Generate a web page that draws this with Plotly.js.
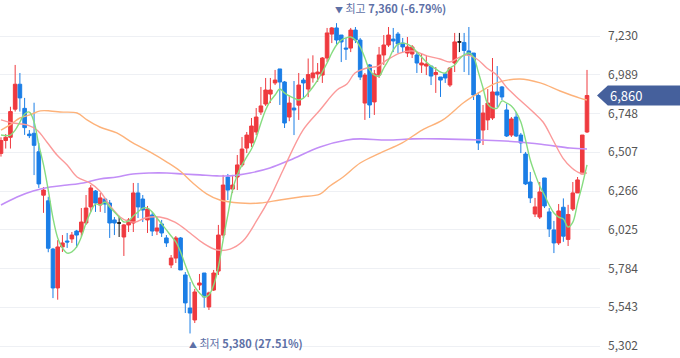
<!DOCTYPE html>
<html><head><meta charset="utf-8">
<script src="https://cdn.plot.ly/plotly-3.0.1.min.js"></script>
<style>html,body{margin:0;padding:0;background:#fff;}#chart{width:680px;height:358px;}</style>
</head><body><div id="chart"></div>
<script>
// daily candles (oldest -> newest)
const opens = [6500,6580,6600,6775,6930,6780,6620,6625,6510,6240,6205,5905,5663,5918,5955,5968,6017,6011,6067,6167,
6266,6179,6216,6191,6086,6067,5980,6055,6067,6254,6216,6086,6117,6017,6061,5974,5806,5849,5974,5744,
5538,5464,5681,5756,5545,5650,5768,5992,6353,6278,6353,6428,6533,6565,6633,6757,6807,6869,6938,7025,
6944,6726,6782,6800,6956,6900,6970,6994,6987,7093,7242,7280,7236,7155,7155,7267,7205,6813,7050,6820,
6987,7112,7174,7211,7242,7186,7124,7118,7112,7050,7043,7043,6990,6975,6994,6925,7062,7193,7190,7137,
7124,6860,6645,6708,6720,6882,6913,6770,6614,6726,6614,6496,6322,6123,6104,6347,6136,6024,5943,6165,
5965,6154,6254,6372,6633];
const highs = [6600,6620,6790,7050,7000,6845,6645,6815,6565,6290,6230,5912,5960,5992,6005,6011,6024,6160,6241,6303,
6272,6254,6223,6210,6104,6111,6061,6098,6316,6316,6241,6173,6136,6104,6086,5992,5868,5986,5980,5762,
5700,5657,5750,5756,5640,5775,6055,6366,6372,6366,6490,6602,6633,6720,6782,6913,6969,6969,7019,7025,
6950,6860,6950,7000,6969,7090,7110,7062,7099,7280,7286,7310,7236,7218,7280,7286,7218,7000,7056,7019,
7162,7236,7286,7280,7255,7218,7224,7174,7130,7124,7112,7043,7037,6975,7000,7037,7249,7249,7249,7286,
7124,6880,6801,6900,7093,7043,6919,6807,6726,6757,6627,6509,6384,6223,6322,6347,6160,6080,6185,6220,
6180,6322,6353,6614,7019];
const lows = [6480,6530,6530,6760,6760,6615,6595,6365,6285,6130,5885,5600,5590,5887,5912,5943,5912,5980,6055,6136,
6136,6136,6129,5974,5992,5980,5862,6011,6011,6098,6073,6005,5986,5992,5980,5918,5787,5818,5775,5507,
5380,5445,5650,5540,5526,5644,5744,5974,6210,6254,6272,6415,6502,6540,6614,6739,6795,6813,6925,6801,
6658,6700,6614,6708,6844,6850,6940,6944,6938,7068,7186,7174,7068,7081,7130,7186,6956,6708,6720,6739,
6969,7050,7162,7130,7124,7130,7099,7093,7000,7000,6987,6925,6876,6851,6938,6913,7006,7130,7006,6987,
6832,6521,6552,6645,6708,6788,6832,6602,6602,6602,6502,6303,6191,6104,6092,6160,5980,5880,5930,5950,
5924,6142,6254,6372,6627];
const closes = [6580,6600,6760,6930,6845,6660,6610,6550,6310,6272,5910,5663,5918,5943,5949,5992,5992,6073,6160,6285,
6191,6223,6185,6067,6067,6067,6055,6086,6254,6167,6148,6154,6017,6036,6005,5943,5849,5974,5775,5570,
5507,5638,5694,5607,5632,5756,5992,6303,6272,6303,6428,6527,6614,6670,6726,6795,6894,6894,6956,6944,
6689,6813,6770,6925,6938,6990,7000,7006,7093,7249,7280,7205,7193,7149,7267,7205,6975,6987,6801,6994,
7112,7174,7236,7199,7180,7162,7162,7162,7062,7062,7056,6981,7003,6956,6969,7031,7193,7193,7140,7112,
6863,6565,6751,6813,6882,6863,6851,6608,6714,6608,6565,6310,6223,6167,6260,6173,6030,5943,6142,5985,
6120,6254,6335,6614,6860];

// moving averages, read at sample positions (candle index)
const ma5Idx = [0,2,3,4,5,6,7,8,9,10,11,12,13,14,15,16,17,18,19,20,21,22,23,25,26,27,28,29,30,31,32,33,34,35,36,37,38,39,40,41,42,43,44,45,46,47,48,49,50,51,52,53,54,55,56,57,58,59,60,61,62,63,64,65,66,67,68,69,70,71,72,73,74,75,76,77,78,79,80,81,82,83,84,85,86,87,88,89,90,91,92,93,94,95,96,97,98,99,100,101,102,103,104,105,106,107,108,109,110,111,112,113,114,115,116,117,118,119,120,121,122,123,124];
const ma5Val = [6614,6614,6645,6695,6745,6757,6695,6552,6428,6272,6098,5974,5912,5880,5887,5918,5980,6067,6136,6185,6179,6198,6167,6104,6073,6080,6111,6136,6160,6160,6136,6098,6061,6024,5986,5949,5887,5806,5731,5669,5632,5607,5619,5681,5793,5961,6117,6272,6366,6428,6478,6527,6596,6689,6770,6826,6863,6900,6876,6857,6844,6832,6844,6876,6913,6956,7006,7062,7124,7174,7205,7218,7224,7205,7162,7093,7019,6987,6981,7031,7081,7143,7180,7186,7180,7162,7130,7099,7068,7043,7025,7006,7000,7031,7050,7087,7112,7124,7099,7006,6907,6807,6782,6782,6826,6813,6795,6757,6695,6583,6459,6372,6297,6241,6179,6129,6104,6092,6042,6073,6191,6303,6428];
const ma20Idx = [0,2.5,5.5,7.6,9.7,11.85,14,16.1,18.8,20.9,23.1,25.2,26.7,28.4,30.5,33.6,36.8,40,42.7,45.7,48.5,51.2,54.2,56.9,59.7,63.9,67.5,71.1,73.2,74.9,77.4,79.8,81.7,84.4,87.2,90.1,92.9,95,97.1,98.6,100.7,102.8,104.9,107.1,109.8,112.6,114.7,116.8,118.9,120.8,122.5,124];
const ma20Val = [6708,6689,6677,6645,6571,6490,6428,6353,6316,6266,6173,6104,6080,6073,6098,6104,6073,6005,5943,5899,5905,5955,6086,6223,6397,6645,6770,6894,6931,7000,7031,7043,7081,7124,7137,7106,7087,7068,7099,7112,7087,7031,6987,6907,6832,6757,6695,6583,6471,6409,6378,6378];
const ma60Idx = [0,1.9,4,6.1,8.3,10.4,12.5,16.1,18.2,20.9,24.5,27.9,31.5,35.1,37.9,40.6,43.6,46.3,50.6,54.8,59,63.3,67.5,69.6,72.4,76,80.2,84.9,89.1,93.5,97.8,101.4,104.9,109.8,114.1,118.3,122.5,124];
const ma60Val = [6645,6677,6720,6739,6764,6764,6757,6751,6708,6664,6627,6565,6509,6446,6390,6316,6247,6210,6191,6191,6210,6229,6247,6297,6353,6440,6502,6565,6645,6708,6813,6882,6938,6963,6938,6888,6844,6832];
const ma120Idx = [0,3.4,6.8,10.4,14,17.4,20.9,24.5,27.9,31.5,35.1,38.5,42.1,45.7,48.5,52.7,56.9,61.2,67.5,73.2,76,81.7,87.2,92.9,101.4,109.8,115.5,120.4,124];
const ma120Val = [6179,6229,6266,6291,6303,6316,6341,6353,6372,6378,6378,6372,6366,6360,6360,6378,6409,6459,6540,6583,6590,6583,6590,6590,6583,6571,6552,6533,6527];

const tickVals = [5302,5543,5784,6025,6266,6507,6748,6989,7230];
const hiWord = '최고', hiValue = '7,360 (-6.79%)';
const loWord = '최저', loValue = '5,380 (27.51%)';

const RED = '#ef3a3f', BLUE = '#1b7ee6';
const N = opens.length;
const idx = opens.map((_, i) => i);
const isDoji = idx.map(i => opens[i] === closes[i]);
function pick(arr, keep) { return arr.filter((_, i) => keep(i)); }
const normal = i => !isDoji[i];
const doji = i => isDoji[i];

const traces = [
  {type:'candlestick', x:pick(idx,normal), open:pick(opens,normal), high:pick(highs,normal), low:pick(lows,normal), close:pick(closes,normal),
   increasing:{line:{color:RED,width:1}, fillcolor:RED}, decreasing:{line:{color:BLUE,width:1}, fillcolor:BLUE},
   whiskerwidth:0, hoverinfo:'skip'},
  {type:'candlestick', x:pick(idx,doji), open:pick(opens,doji), high:pick(highs,doji), low:pick(lows,doji), close:pick(closes,doji),
   increasing:{line:{color:'#111',width:1}, fillcolor:'#111'}, decreasing:{line:{color:'#111',width:1}, fillcolor:'#111'},
   whiskerwidth:0, hoverinfo:'skip'},
  {type:'scatter', mode:'lines', x:ma120Idx, y:ma120Val, line:{color:'#c28ef7', width:1.6, shape:'spline', smoothing:1}, hoverinfo:'skip'},
  {type:'scatter', mode:'lines', x:ma60Idx, y:ma60Val, line:{color:'#fdb27a', width:1.4, shape:'spline', smoothing:1}, hoverinfo:'skip'},
  {type:'scatter', mode:'lines', x:ma20Idx, y:ma20Val, line:{color:'#fb9a9a', width:1.4, shape:'spline', smoothing:1}, hoverinfo:'skip'},
  {type:'scatter', mode:'lines', x:ma5Idx, y:ma5Val, line:{color:'#86dc80', width:1.4, shape:'spline', smoothing:1}, hoverinfo:'skip'}
];

const yMin = 5227.4, yMax = 7453.9;
let hiI = 0, loI = 0;
for (let i = 0; i < N; i++) { if (highs[i] > highs[hiI]) hiI = i; if (lows[i] < lows[loI]) loI = i; }
const last = closes[N-1];
const lastP = (last - yMin) / (yMax - yMin);
const hh = 10/358;
const tagColor = '#45609c';
const labColor = '#5d70a6';

const layout = {
  width:680, height:358, margin:{l:0, r:80, t:0, b:0},
  paper_bgcolor:'#fff', plot_bgcolor:'#fff', showlegend:false,
  boxgap:0.2, boxgroupgap:0.05,
  font:{family:'"Noto Sans CJK KR", "Noto Sans", sans-serif'},
  xaxis:{range:[-0.21,126.75], showgrid:false, zeroline:false, showticklabels:false, showline:false, ticks:'', rangeslider:{visible:false}, fixedrange:true},
  yaxis:{side:'right', range:[yMin,yMax], tickvals:tickVals, tickformat:',', showgrid:true, gridcolor:'#eef0f4', gridwidth:1,
         zeroline:false, showline:false, ticks:'', ticklabelstandoff:7, tickfont:{size:12, color:'#555'}, fixedrange:true},
  shapes:[
    {type:'path', xref:'paper', yref:'paper', layer:'above',
     path:`M 0.995 ${lastP} L 1.013 ${lastP+hh} L 1.1334 ${lastP+hh} L 1.1334 ${lastP-hh} L 1.013 ${lastP-hh} Z`,
     fillcolor:tagColor, line:{width:0}}
  ],
  annotations:[
    {xref:'x', yref:'y', x:hiI, y:highs[hiI], xanchor:'left', yanchor:'middle', xshift:-4, yshift:15, showarrow:false,
     text:'<span style="font-size:8px">▼</span> ' + hiWord + ' <b>' + hiValue + '</b>', font:{size:11, color:labColor}},
    {xref:'x', yref:'y', x:loI, y:lows[loI], xanchor:'left', yanchor:'middle', xshift:-3, yshift:-10, showarrow:false,
     text:'<span style="font-size:8px">▲</span> ' + loWord + ' <b>' + loValue + '</b>', font:{size:11, color:labColor}},
    {xref:'paper', yref:'y', x:1.0135, y:last, xanchor:'left', yanchor:'middle', showarrow:false,
     text:last.toLocaleString('en-US'), font:{size:13, color:'#fff'}}
  ]
};
Plotly.newPlot('chart', traces, layout, {staticPlot:true, displayModeBar:false});
</script></body></html>
